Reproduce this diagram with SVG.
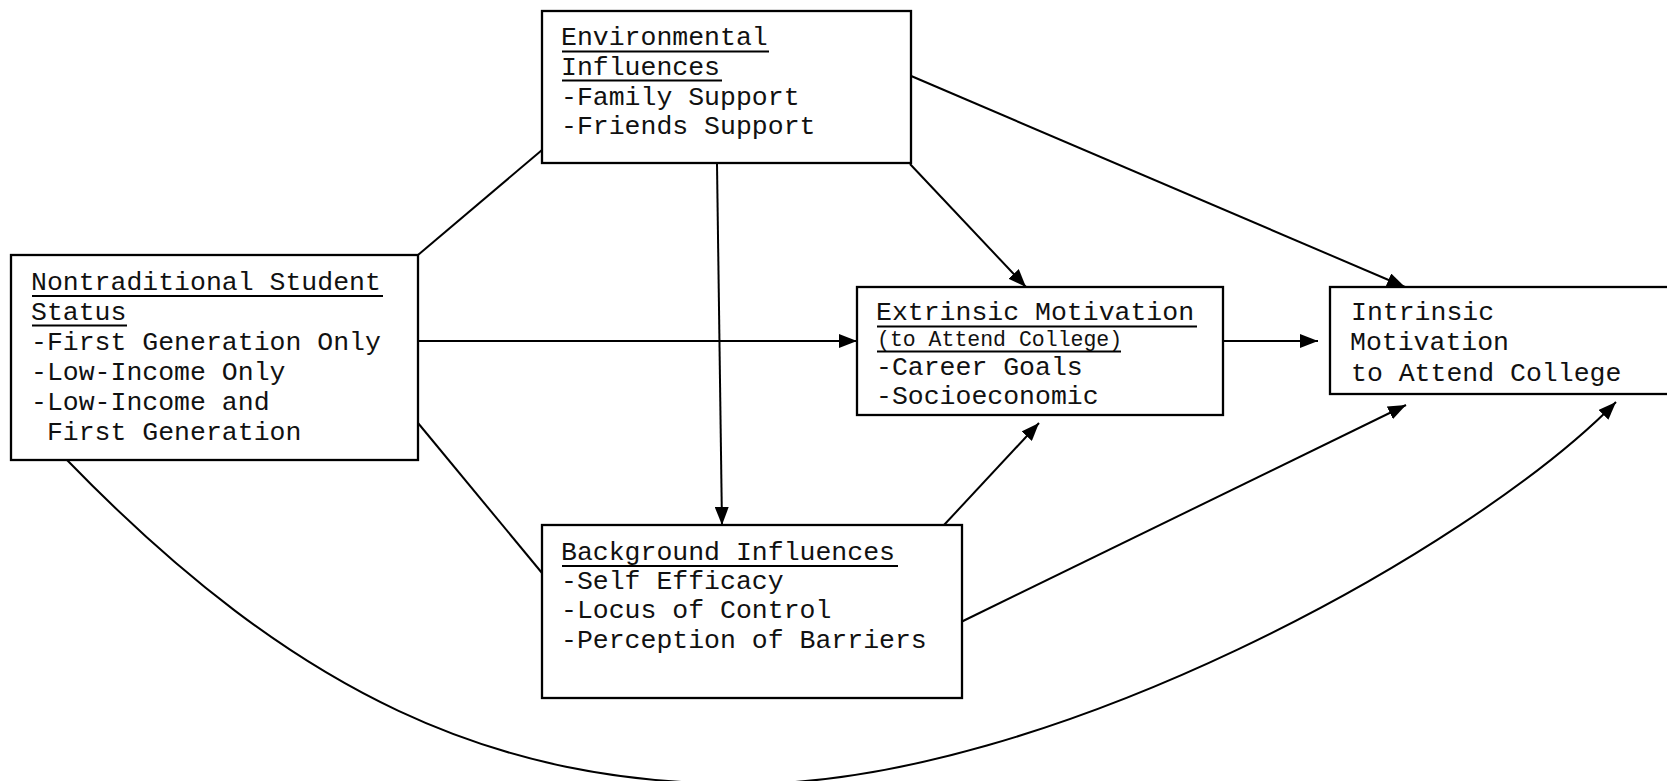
<svg xmlns="http://www.w3.org/2000/svg" width="1667" height="781" viewBox="0 0 1667 781">
<style>
.box{fill:#fff;stroke:#000;stroke-width:2.3}
.t{font-family:"Courier New","Nimbus Mono PS","FreeMono","Liberation Mono",monospace;font-size:26.5px;fill:#111}
.s{font-size:21.5px}
.ul{stroke:#000;stroke-width:2}
.c{fill:none;stroke:#000;stroke-width:2}
.a{marker-end:url(#arr)}
</style>
<defs>
<marker id="arr" markerUnits="userSpaceOnUse" markerWidth="18" markerHeight="14" refX="18" refY="7" orient="auto">
<path d="M0,0 L18,7 L0,14 z" fill="#000"/>
</marker>
</defs>
<g id="connectors">
<line class="c" x1="418" y1="255" x2="542" y2="150"/>
<line class="c a" x1="418" y1="341" x2="857" y2="341"/>
<line class="c" x1="418" y1="423" x2="542" y2="573"/>
<line class="c a" x1="717" y1="164" x2="722" y2="525"/>
<line class="c a" x1="910" y1="164" x2="1026" y2="287"/>
<line class="c a" x1="910" y1="75.5" x2="1405" y2="287"/>
<line class="c a" x1="1223" y1="341" x2="1318" y2="341"/>
<line class="c a" x1="944" y1="525" x2="1039" y2="423"/>
<line class="c a" x1="961" y1="622" x2="1406" y2="405"/>
<path class="c a" d="M67,460 C297,697 495,784 745,784 C1045,784 1468,553 1616,402"/>
</g>
<g id="env">
<rect class="box" x="542" y="11" width="369" height="152"/>
<text class="t" x="561" y="45">Environmental</text>
<text class="t" x="561" y="75">Influences</text>
<text class="t" x="561" y="105">-Family Support</text>
<text class="t" x="561" y="134">-Friends Support</text>
<line class="ul" x1="562" y1="51.5" x2="769" y2="51.5"/>
<line class="ul" x1="562" y1="80.5" x2="722" y2="80.5"/>
</g>
<g id="nontrad">
<rect class="box" x="11" y="255" width="407" height="205"/>
<text class="t" x="31" y="290">Nontraditional Student</text>
<text class="t" x="31" y="320">Status</text>
<text class="t" x="31" y="350">-First Generation Only</text>
<text class="t" x="31" y="380">-Low-Income Only</text>
<text class="t" x="31" y="410">-Low-Income and</text>
<text class="t" x="31" y="440" xml:space="preserve"> First Generation</text>
<line class="ul" x1="32" y1="296" x2="383" y2="296"/>
<line class="ul" x1="32" y1="325.5" x2="127" y2="325.5"/>
</g>
<g id="extrinsic">
<rect class="box" x="857" y="287" width="366" height="128"/>
<text class="t" x="876" y="320">Extrinsic Motivation</text>
<text class="t s" x="877" y="346">(to Attend College)</text>
<text class="t" x="876" y="375">-Career Goals</text>
<text class="t" x="876" y="404">-Socioeconomic</text>
<line class="ul" x1="877" y1="326.5" x2="1197" y2="326.5"/>
<line class="ul" x1="877" y1="351.5" x2="1121" y2="351.5"/>
</g>
<g id="intrinsic">
<rect class="box" x="1330" y="287" width="360" height="107"/>
<text class="t" x="1351" y="320">Intrinsic</text>
<text class="t" x="1350" y="350">Motivation</text>
<text class="t" x="1351" y="381">to Attend College</text>
</g>
<g id="background">
<rect class="box" x="542" y="525" width="420" height="173"/>
<text class="t" x="561" y="560">Background Influences</text>
<text class="t" x="561" y="589">-Self Efficacy</text>
<text class="t" x="561" y="618">-Locus of Control</text>
<text class="t" x="561" y="648">-Perception of Barriers</text>
<line class="ul" x1="562" y1="566" x2="898" y2="566"/>
</g>
</svg>
